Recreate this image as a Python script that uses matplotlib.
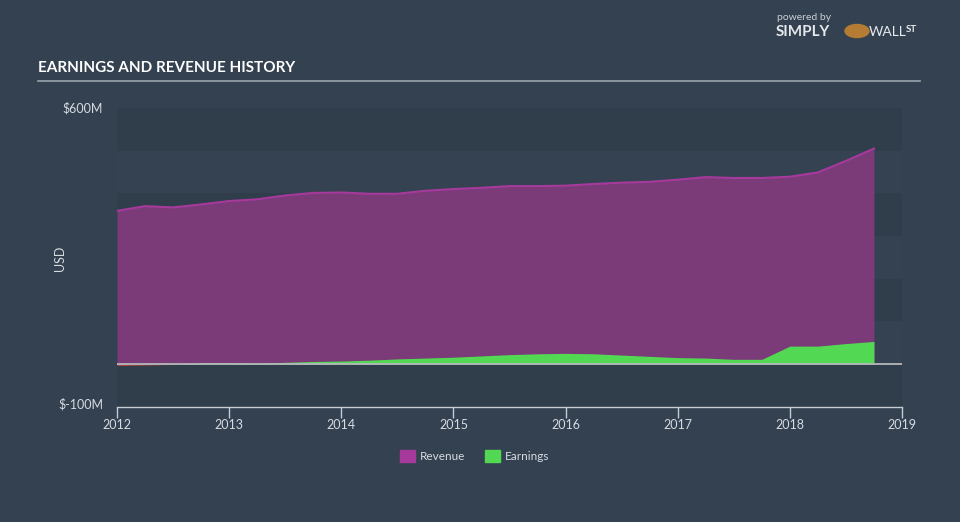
import numpy as np
import matplotlib
matplotlib.use('agg')
import matplotlib.pyplot as plt
from matplotlib.patches import Rectangle, Circle

# quarterly points, decimal years
years = [2012.0, 2012.25, 2012.5, 2012.75, 2013.0, 2013.25, 2013.5, 2013.75,
         2014.0, 2014.25, 2014.5, 2014.75, 2015.0, 2015.25, 2015.5, 2015.75,
         2016.0, 2016.25, 2016.5, 2016.75, 2017.0, 2017.25, 2017.5, 2017.75,
         2018.0, 2018.25, 2018.5, 2018.75]
revenue = [359, 370, 367, 374, 382, 386, 395, 401,
           402, 399, 399, 406, 410, 413, 417, 417,
           418, 422, 425, 427, 432, 438, 436, 436,
           439, 449, 476, 505]
earnings = [-3, -2, -1, 3, 3, 2, 4, 6,
            7, 9, 12, 14, 16, 19, 22, 24,
            25, 24, 21, 18, 15, 14, 11, 11,
            42, 42, 48, 53]
year_ticks = [2012, 2013, 2014, 2015, 2016, 2017, 2018, 2019]

BG = '#344150'
DARK = '#303d4b'
LIGHT = '#344251'
REV = '#a63a9c'
REV_FILL = '#7b3a78'
EARN = '#53d853'
NEG = '#e0443c'
TXT = '#d6dbe0'

plt.rcParams['font.family'] = ['Lato', 'DejaVu Sans']

fig = plt.figure(figsize=(9.6, 5.22), dpi=100, facecolor=BG)
ax = fig.add_axes([117 / 960, 1 - 406.7 / 522, 785 / 960, 298.7 / 522])
ax.set_facecolor(DARK)
ax.set_xlim(2012, 2019)
ax.set_ylim(-100, 600)

# alternating horizontal bands
for lo in range(-100, 600, 100):
    col = LIGHT if (lo // 100) % 2 == 0 else DARK
    ax.axhspan(lo, lo + 100, color=col, lw=0, zorder=0)

x = np.array(years)
rev = np.array(revenue)
earn = np.array(earnings)

ax.fill_between(x, 0, rev, color=REV_FILL, lw=0, zorder=2)
ax.plot(x, rev, color=REV, lw=1.5, zorder=3)
ax.fill_between(x, 0, earn, where=earn >= 0, interpolate=True, color=EARN, lw=0, zorder=4)
ax.fill_between(x, 0, earn, where=earn < 0, interpolate=True, color=NEG, lw=0, zorder=4)
ax.axhline(0, color='#b5b8bc', lw=1.3, zorder=5)

for s in ['top', 'right', 'left']:
    ax.spines[s].set_visible(False)
ax.spines['bottom'].set_color('#c5ccd3')
ax.spines['bottom'].set_linewidth(1)
ax.set_xticks(year_ticks)
ax.set_xticklabels([str(y) for y in year_ticks])
ax.tick_params(axis='x', colors='#c5ccd3', length=8, width=1, labelcolor=TXT,
               labelsize=9, pad=1)
ax.set_yticks([])

fig.text(103 / 960, 1 - 108 / 522, '$600M', color=TXT, fontsize=9, ha='right', va='center')
fig.text(103 / 960, 1 - 404 / 522, '$-100M', color=TXT, fontsize=9, ha='right', va='center')
fig.text(60 / 960, 1 - 258 / 522, 'USD', color=TXT, fontsize=9, rotation=90,
         ha='center', va='center')

# title and rule
fig.text(38 / 960, 1 - 68 / 522, 'EARNINGS AND REVENUE HISTORY', color='white',
         fontsize=11, fontweight='bold', ha='left', va='center')
fig.add_artist(plt.Line2D([38 / 960, 920 / 960], [1 - 81 / 522] * 2,
                          color='#9aa3ad', lw=1.2))

# legend
for px, label, col in [(400, 'Revenue', REV), (485, 'Earnings', EARN)]:
    fig.add_artist(Rectangle((px / 960, 1 - 462 / 522), 15 / 960, 12 / 522,
                             color=col, transform=fig.transFigure))
    fig.text((px + 20) / 960, 1 - 456 / 522, label, color=TXT, fontsize=8.5,
             ha='left', va='center')

# logo
fig.text(777 / 960, 1 - 17 / 522, 'powered by', color='#c9ced3', fontsize=7.5,
         ha='left', va='center')
fig.text(776 / 960, 1 - 32 / 522, 'SIMPLY', color='#e6e9ec', fontsize=11,
         fontweight='bold', ha='left', va='center')
fig.add_artist(Circle((857 / 960, 1 - 31 / 522), 12 / 960, color='#b57c34',
                      transform=fig.transFigure))
fig.text(869 / 960, 1 - 32 / 522, 'WALL', color='#e6e9ec', fontsize=10,
         ha='left', va='center')
fig.text(906 / 960, 1 - 29 / 522, 'ST', color='#e6e9ec', fontsize=7,
         fontweight='bold', ha='left', va='center')

fig.savefig('out.png', dpi=100, facecolor=BG)
